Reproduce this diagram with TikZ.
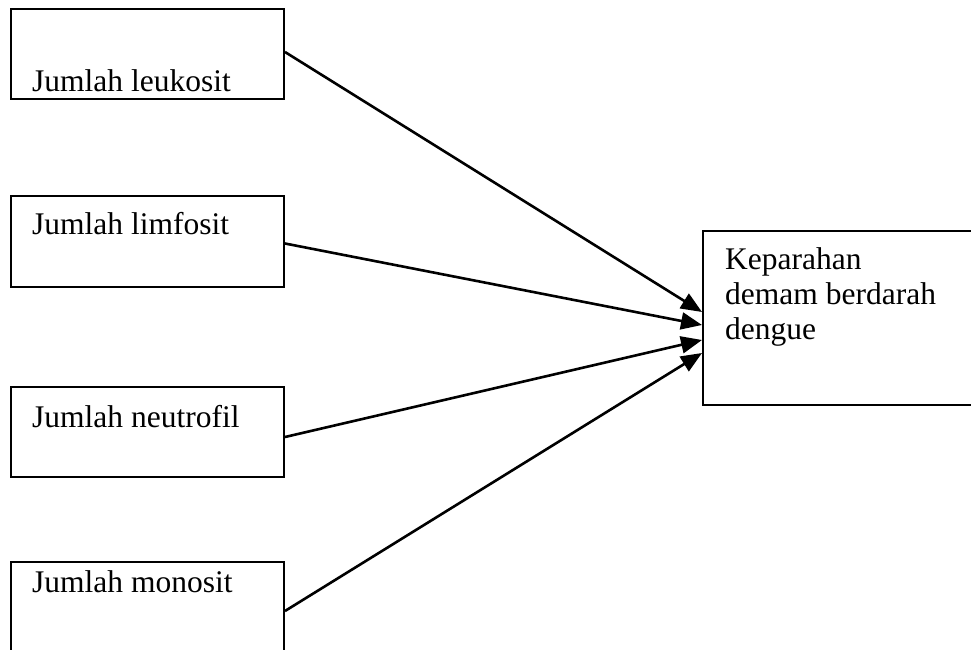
\documentclass[tikz,border=0pt]{standalone}
\usepackage{fontspec}
\setmainfont{Liberation Serif}
\usetikzlibrary{arrows.meta,calc}
\begin{document}
\begin{tikzpicture}[x=1pt, y=1pt,
		box/.style={draw, line width=2pt, inner sep=0pt, minimum width=273pt},
		lbl/.style={anchor=base west, inner sep=0pt, align=left, font=\fontsize{31.5}{35}\selectfont},
		arr/.style={line width=2.6pt, -{Triangle[length=21pt,width=17pt]}}]
		\useasboundingbox (0,0) rectangle (971,649);
		\clip (0,0) rectangle (971,649);
		
		\node[box, minimum height=90pt] (leuk) at (147.5,595) {};
		\node[box, minimum height=91pt] (limf) at (147.5,407.5) {};
		\node[box, minimum height=90pt] (neut) at (147.5,217) {};
		\node[box, minimum height=90pt] (mono) at (147.5,42) {};
		\node[box, minimum width=272pt, minimum height=174pt] (dbd) at (839,331) {};
		
		\node[lbl] (leuktxt) at (32,557) {Jumlah leukosit};
		\node[lbl] (limftxt) at (32,414) {Jumlah limfosit};
		\node[lbl] (neuttxt) at (32,222) {Jumlah neutrofil};
		\node[lbl] (monotxt) at (32,57) {Jumlah monosit};
		\node[lbl] (dbdtxt) at (725,310) {Keparahan\\demam berdarah\\dengue};
		
		\coordinate (in1) at ($(dbd.west)+(0,6)$);
		\coordinate (in2) at ($(dbd.west)+(0,-7)$);
		\coordinate (in3) at ($(dbd.west)+(0,-22)$);
		\coordinate (in4) at ($(dbd.west)+(0,-35)$);
		
		\draw[arr] ($(leuk.east)+(0,2)$) -- (in1);
		\draw[arr] ($(limf.east)+(0,-2)$) -- (in2);
		\draw[arr] ($(neut.east)+(0,-5)$) -- (in3);
		\draw[arr] ($(mono.east)+(0,-4)$) -- (in4);
	\end{tikzpicture}
\end{document}
